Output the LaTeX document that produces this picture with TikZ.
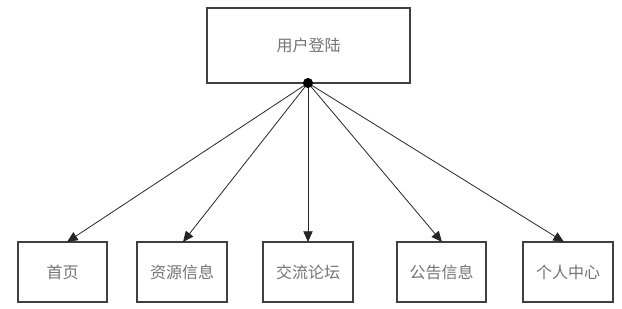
\documentclass[tikz,border=0pt]{standalone}
\usepackage{fontspec}
\newfontfamily\cjk{Noto Sans CJK SC}
\usetikzlibrary{arrows.meta}
\begin{document}
\begin{tikzpicture}[x=0.75pt,y=-0.75pt,
  box/.style={draw=black!75,line width=0.9pt,minimum width=#1*0.75pt,minimum height=60*0.75pt,inner sep=0pt,font=\cjk\fontsize{12}{14}\selectfont,text=black!55},
  link/.style={draw=black!85,line width=0.6pt,-{Triangle[length=8pt,width=7pt]}}]
\useasboundingbox (0,0) rectangle (622,309);
\node[box=203,minimum height=75*0.75pt] (top) at (308.5,45.5) {用户登陆};
\node[box=89] (b1) at (62.5,272) {首页};
\node[box=90] (b2) at (182,272) {资源信息};
\node[box=90] (b3) at (308,272) {交流论坛};
\node[box=89] (b4) at (441.5,272) {公告信息};
\node[box=90] (b5) at (568,272) {个人中心};
\coordinate (hub) at (308,83);
\coordinate (t1) at (67,242);
\coordinate (t2) at (183,242);
\coordinate (t3) at (308,242);
\coordinate (t4) at (442,242);
\coordinate (t5) at (564,242);
\draw[link] (hub) -- (t1);
\draw[link] (hub) -- (t2);
\draw[link] (hub) -- (t3);
\draw[link] (hub) -- (t4);
\draw[link] (hub) -- (t5);
\fill[black] (hub) circle (3.8pt);
\end{tikzpicture}
\end{document}
